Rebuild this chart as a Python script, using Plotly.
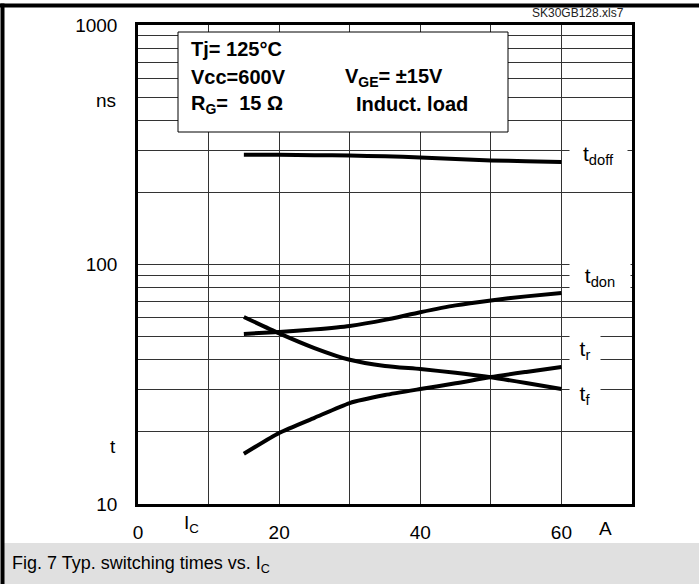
import math
import plotly.graph_objects as go

# ---- data ----
ic = [15, 20, 25, 30, 35, 40, 45, 50, 55, 60]
t_doff = [287, 287, 286, 285, 283, 280, 276, 272, 270, 268]
t_don = [51.3, 52.3, 53.6, 55.4, 58.7, 63.2, 67.5, 70.8, 73.6, 76.0]
t_r = [16.2, 19.8, 22.9, 26.4, 28.5, 30.2, 31.9, 33.9, 35.6, 37.3]
t_f = [60.4, 51.6, 44.8, 40.0, 37.7, 36.6, 35.3, 33.8, 32.0, 30.2]

series_names = ["t<sub>doff</sub>", "t<sub>don</sub>", "t<sub>r</sub>", "t<sub>f</sub>"]
series_values = [t_doff, t_don, t_r, t_f]
label_y = [287, 88.7, 44.0, 28.5]
label_h = [28, 32, 38, 30]
label_w = [57, 60, 30, 30]

x_ticks = [0, 20, 40, 60]
x_ticktext = ["0", "20", "40", "60"]
x_minor = [10, 30, 50, 70]
y_ticks = [10, 100, 1000]
y_ticktext = ["10", "100", "1000"]
y_minor = [20, 30, 40, 50, 60, 70, 80, 90, 200, 300, 400, 500, 600, 700, 800, 900]

W, H = 699, 584
FONT = "Liberation Sans, Arial, Helvetica, sans-serif"


def px(x):
    return x / W


def py(y):
    return 1 - y / H


fig = go.Figure()
for name, vals in zip(series_names, series_values):
    fig.add_trace(go.Scatter(
        x=ic, y=vals, mode="lines", name=name,
        line=dict(color="black", width=4, shape="spline", smoothing=0.6),
        showlegend=False, hoverinfo="skip"))

annotations = []
for name, yv, h, w in zip(series_names, label_y, label_h, label_w):
    annotations.append(dict(
        x=60, y=math.log10(yv), xref="x", yref="y",
        xanchor="left", yanchor="middle", xshift=8,
        text=name, showarrow=False, bgcolor="white",
        width=w, height=h, borderpad=0, align="center",
        font=dict(family=FONT, size=21, color="black")))

box_font = dict(family=FONT, size=20, color="black", weight="bold")
for txt, x, y in [("Tj= 125°C", 189, 49),
                  ("Vcc=600V", 189, 77),
                  ("R<sub>G</sub>=  15 Ω", 189, 104),
                  ("V<sub>GE</sub>= ±15V", 343, 77),
                  ("Induct. load", 354, 104)]:
    annotations.append(dict(x=px(x), y=py(y), xref="paper", yref="paper",
                            xanchor="left", yanchor="middle", text="<b>" + txt + "</b>",
                            showarrow=False, font=box_font))

reg = dict(family=FONT, size=19, color="black")
annotations += [
    dict(x=px(118), y=py(100), xref="paper", yref="paper", xanchor="right",
         yanchor="middle", text="ns", showarrow=False, font=reg),
    dict(x=px(118), y=py(446), xref="paper", yref="paper", xanchor="right",
         yanchor="middle", text="t", showarrow=False, font=reg),
    dict(x=px(182), y=py(524), xref="paper", yref="paper", xanchor="left",
         yanchor="middle", text="I<sub>C</sub>", showarrow=False, font=reg),
    dict(x=px(597), y=py(528), xref="paper", yref="paper", xanchor="left",
         yanchor="middle", text="A", showarrow=False, font=reg),
    dict(x=px(626), y=py(13), xref="paper", yref="paper", xanchor="right",
         yanchor="middle", text="SK30GB128.xls7", showarrow=False,
         font=dict(family=FONT, size=12, color="#222")),
    dict(x=px(10), y=py(564), xref="paper", yref="paper", xanchor="left",
         yanchor="middle", text="Fig. 7 Typ. switching times vs. I<sub>C</sub>",
         showarrow=False, font=dict(family=FONT, size=18, color="black")),
]

shapes = [
    dict(type="rect", xref="paper", yref="paper", x0=px(4), x1=px(W), y0=py(584), y1=py(543),
         fillcolor="#e0e0e0", line=dict(width=0), layer="below"),
    dict(type="rect", xref="paper", yref="paper", x0=0, x1=1, y0=py(7.5), y1=py(3.5),
         fillcolor="black", line=dict(width=0), layer="above"),
    dict(type="rect", xref="paper", yref="paper", x0=px(0.5), x1=px(4.5), y0=0, y1=py(3.5),
         fillcolor="black", line=dict(width=0), layer="above"),
    dict(type="rect", xref="paper", yref="paper", x0=px(178), x1=px(508), y0=py(132), y1=py(32),
         fillcolor="white", line=dict(color="black", width=1), layer="above"),
]

grid = dict(showgrid=True, gridcolor="#333", gridwidth=1.2)
fig.update_layout(
    width=W, height=H,
    margin=dict(l=0, r=0, t=0, b=0, autoexpand=False),
    paper_bgcolor="white", plot_bgcolor="white",
    font=dict(family=FONT, size=19, color="black"),
    annotations=annotations, shapes=shapes,
    xaxis=dict(domain=[px(138), px(632)], range=[0, 70], automargin=False,
               tickvals=x_ticks, ticktext=x_ticktext, ticks="",
               minor=dict(tickvals=x_minor, ticks="", **grid),
               ticklabelstandoff=9, zeroline=False, showline=True,
               linecolor="black", linewidth=2.5, mirror=True,
               tickfont=dict(family=FONT, size=19, color="black"), **grid),
    yaxis=dict(domain=[py(504), py(25)], type="log", range=[1, 3], automargin=False,
               tickvals=y_ticks, ticktext=y_ticktext, ticks="",
               minor=dict(tickvals=y_minor, ticks="", **grid),
               ticklabelstandoff=14, zeroline=False, showline=True,
               linecolor="black", linewidth=2.5, mirror=True,
               tickfont=dict(family=FONT, size=19, color="black"), **grid),
)

fig.write_html("out.html", config={"displayModeBar": False},
               post_script="document.body.style.margin='0';document.body.style.overflow='hidden';")
